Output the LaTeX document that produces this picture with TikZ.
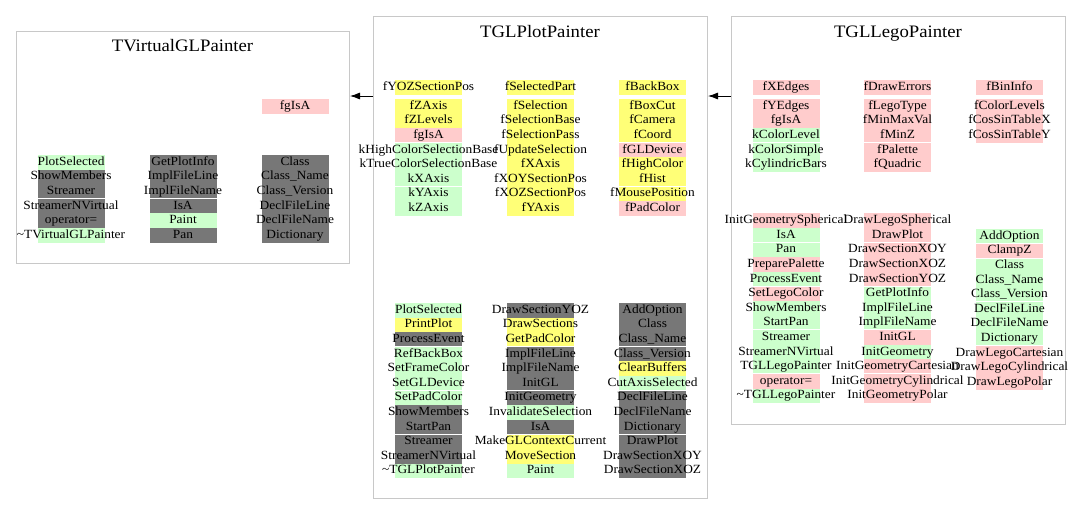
\documentclass[tikz,border=0pt]{standalone}
\usepackage{fontspec}
\setmainfont[FakeStretch=1.07]{Liberation Serif}
\usepackage{tikz}
\usetikzlibrary{arrows.meta}

\definecolor{memgreen}{RGB}{204,255,204}
\definecolor{mempink}{RGB}{255,204,204}
\definecolor{memyellow}{RGB}{255,255,119}
\definecolor{memgray}{RGB}{119,119,119}
\definecolor{boxline}{RGB}{200,200,200}

\newcommand{\cellw}{67pt}
\newcommand{\rowh}{14.6}
\newcommand{\memberlist}[4]{%
  \foreach \txt/\col/\gp [count=\i from 0] in {#4} {
    \node[member, fill=\col] (#1-\i) at (#2, #3+\i*\rowh+\rowh/2) {\makebox[\cellw]{\txt}};
    \ifnum\gp=1 \draw[gapline] (#1-\i.north west) -- (#1-\i.north east);\fi
  }%
}

\begin{document}
\begin{tikzpicture}[x=1pt, y=-1pt,
    classbox/.style={draw=boxline, line width=1pt, anchor=north west, inner sep=0pt},
    title/.style={font=\fontsize{17.5}{20}\selectfont, inner sep=0pt, text height=12pt, text depth=4pt},
    member/.style={inner sep=0pt, minimum height=14.6pt, text height=9pt, text depth=3pt,
      font=\fontsize{12.5}{14}\selectfont},
    gapline/.style={white, line width=1pt},
    inharrow/.style={-{Latex[length=10pt, width=7pt]}, line width=0.8pt}]
\useasboundingbox (0,0) rectangle (1080,525);

\node[classbox, minimum width=333pt, minimum height=232pt] (virt) at (16,31) {};
\node[classbox, minimum width=334pt, minimum height=482pt] (plot) at (373,16) {};
\node[classbox, minimum width=334pt, minimum height=408pt] (lego) at (731,16) {};
\node[title] (virt-title) at (182.5,47) {TVirtualGLPainter};
\node[title] (plot-title) at (540,33) {TGLPlotPainter};
\node[title] (lego-title) at (898,33) {TGLLegoPainter};

\path (plot.north west) ++(0,80) coordinate (plot-in);
\path (lego.north west) ++(0,80) coordinate (lego-in);
\draw[inharrow] (plot-in) -- (plot-in -| virt.east);
\draw[inharrow] (lego-in) -- (lego-in -| plot.east);

% TVirtualGLPainter
\memberlist{vd}{295}{99}{fgIsA/mempink/0}
\memberlist{va}{71}{155}{PlotSelected/memgreen/0, ShowMembers/memgray/0, Streamer/memgray/0,
  StreamerNVirtual/memgray/1, operator=/memgray/0, \textasciitilde TVirtualGLPainter/memgreen/0}
\memberlist{vb}{183}{155}{GetPlotInfo/memgray/0, ImplFileLine/memgray/0, ImplFileName/memgray/0,
  IsA/memgray/1, Paint/memgreen/0, Pan/memgray/0}
\memberlist{vc}{295}{155}{Class/memgray/0, Class\_Name/memgray/0, Class\_Version/memgray/0,
  DeclFileLine/memgray/0, DeclFileName/memgray/0, Dictionary/memgray/0}

% TGLPlotPainter
\memberlist{pt1}{428.5}{80}{fYOZSectionPos/memyellow/0}
\memberlist{pt2}{540.5}{80}{fSelectedPart/memyellow/0}
\memberlist{pt3}{652.5}{80}{fBackBox/memyellow/0}
\memberlist{pd1}{428.5}{99}{fZAxis/memyellow/0, fZLevels/memyellow/0, fgIsA/mempink/0,
  kHighColorSelectionBase/memgreen/1, kTrueColorSelectionBase/memgreen/0, kXAxis/memgreen/0,
  kYAxis/memgreen/1, kZAxis/memgreen/0}
\memberlist{pd2}{540.5}{99}{fSelection/memyellow/0, fSelectionBase/memyellow/0, fSelectionPass/memyellow/0,
  fUpdateSelection/memyellow/0, fXAxis/memyellow/0, fXOYSectionPos/memyellow/0,
  fXOZSectionPos/memyellow/0, fYAxis/memyellow/0}
\memberlist{pd3}{652.5}{99}{fBoxCut/memyellow/0, fCamera/memyellow/0, fCoord/memyellow/0,
  fGLDevice/mempink/1, fHighColor/memyellow/0, fHist/memyellow/0,
  fMousePosition/memyellow/1, fPadColor/mempink/0}
\memberlist{pm1}{428.5}{303}{PlotSelected/memgreen/0, PrintPlot/memyellow/0, ProcessEvent/memgray/0,
  RefBackBox/memgreen/1, SetFrameColor/memgreen/0, SetGLDevice/memgreen/0,
  SetPadColor/memgreen/1, ShowMembers/memgray/0, StartPan/memgray/0,
  Streamer/memgray/1, StreamerNVirtual/memgray/0, \textasciitilde TGLPlotPainter/memgreen/0}
\memberlist{pm2}{540.5}{303}{DrawSectionYOZ/memgray/0, DrawSections/memyellow/0, GetPadColor/memyellow/0,
  ImplFileLine/memgray/1, ImplFileName/memgray/0, InitGL/memgray/0,
  InitGeometry/memgray/1, InvalidateSelection/memgreen/0, IsA/memgray/0,
  MakeGLContextCurrent/memyellow/1, MoveSection/memyellow/0, Paint/memgreen/0}
\memberlist{pm3}{652.5}{303}{AddOption/memgray/0, Class/memgray/0, Class\_Name/memgray/0,
  Class\_Version/memgray/1, ClearBuffers/memyellow/0, CutAxisSelected/memgreen/0,
  DeclFileLine/memgray/1, DeclFileName/memgray/0, Dictionary/memgray/0,
  DrawPlot/memgray/1, DrawSectionXOY/memgray/0, DrawSectionXOZ/memgray/0}

% TGLLegoPainter
\memberlist{lt1}{786}{80}{fXEdges/mempink/0}
\memberlist{lt2}{897.5}{80}{fDrawErrors/mempink/0}
\memberlist{lt3}{1009.5}{80}{fBinInfo/mempink/0}
\memberlist{ld1}{786}{99}{fYEdges/mempink/0, fgIsA/mempink/0, kColorLevel/memgreen/0,
  kColorSimple/memgreen/1, kCylindricBars/memgreen/0}
\memberlist{ld2}{897.5}{99}{fLegoType/mempink/0, fMinMaxVal/mempink/0, fMinZ/mempink/0,
  fPalette/mempink/1, fQuadric/mempink/0}
\memberlist{ld3}{1009.5}{99}{fColorLevels/mempink/0, fCosSinTableX/mempink/0, fCosSinTableY/mempink/0}
\memberlist{lm1}{786}{213.3}{InitGeometrySpherical/mempink/0, IsA/memgreen/0, Pan/memgreen/1,
  PreparePalette/mempink/0, ProcessEvent/memgreen/0, SetLegoColor/mempink/1,
  ShowMembers/memgreen/0, StartPan/memgreen/0, Streamer/memgreen/1,
  StreamerNVirtual/memgreen/0, TGLLegoPainter/memgreen/0, operator=/mempink/1,
  \textasciitilde TGLLegoPainter/memgreen/0}
\memberlist{lm2}{897.5}{213.3}{DrawLegoSpherical/mempink/0, DrawPlot/mempink/0, DrawSectionXOY/mempink/1,
  DrawSectionXOZ/mempink/0, DrawSectionYOZ/mempink/0, GetPlotInfo/memgreen/1,
  ImplFileLine/memgreen/0, ImplFileName/memgreen/0, InitGL/mempink/1,
  InitGeometry/memgreen/0, InitGeometryCartesian/mempink/0, InitGeometryCylindrical/mempink/1,
  InitGeometryPolar/mempink/0}
\memberlist{lm3}{1009.5}{229}{AddOption/memgreen/0, ClampZ/mempink/1, Class/memgreen/1,
  Class\_Name/memgreen/0, Class\_Version/memgreen/0, DeclFileLine/memgreen/1,
  DeclFileName/memgreen/0, Dictionary/memgreen/0, DrawLegoCartesian/mempink/1,
  DrawLegoCylindrical/mempink/0, DrawLegoPolar/mempink/0}
\end{tikzpicture}
\end{document}
